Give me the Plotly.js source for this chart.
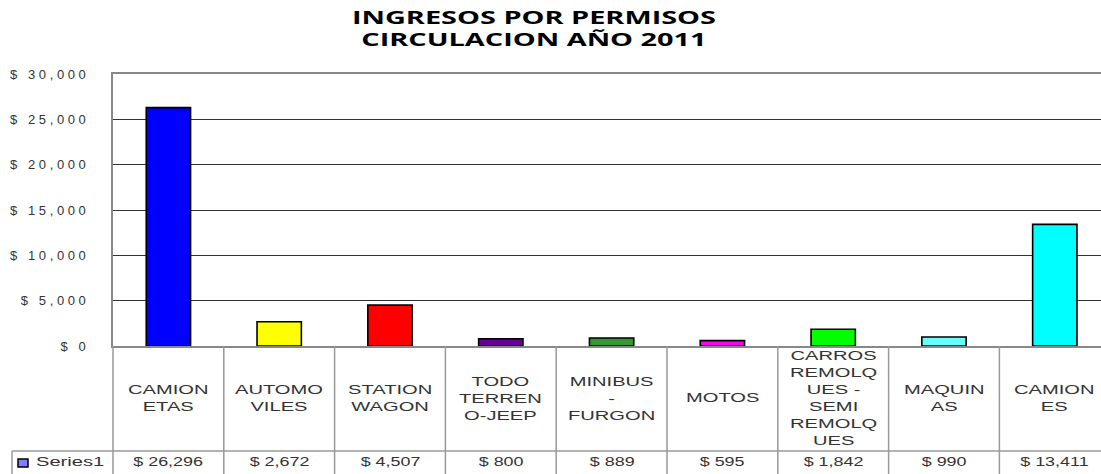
<!DOCTYPE html>
<html>
<head>
<meta charset="utf-8">
<script src="https://cdn.plot.ly/plotly-3.0.1.min.js"></script>
<style>
  html, body { margin: 0; padding: 0; background: #fff; }
  #chart { width: 1101px; height: 474px; }
  .annotation-text { transform: scaleX(1.55); transform-box: fill-box; transform-origin: center; }
  .gtitle { transform: scaleX(1.7); transform-box: fill-box; transform-origin: center; }
  .yaxislayer-above text { letter-spacing: 3.6px; }
</style>
</head>
<body>
<div id="chart"></div>
<script>
// ---- data ----
const categories = ['CAMIONETAS', 'AUTOMOVILES', 'STATION WAGON', 'TODO TERRENO-JEEP', 'MINIBUS - FURGON', 'MOTOS', 'CARROS REMOLQUES - SEMI REMOLQUES', 'MAQUINAS', 'CAMIONES'];
const tableLabels = ['CAMION<br>ETAS', 'AUTOMO<br>VILES', 'STATION<br>WAGON', 'TODO<br>TERREN<br>O-JEEP', 'MINIBUS<br>-<br>FURGON', 'MOTOS', 'CARROS<br>REMOLQ<br>UES -<br>SEMI<br>REMOLQ<br>UES', 'MAQUIN<br>AS', 'CAMION<br>ES'];
const values = [26296, 2672, 4507, 800, 889, 595, 1842, 990, 13411];
const barColors = ['#0000FF', '#FFFF00', '#FF0000', '#660099', '#339933', '#FF00FF', '#00FF00', '#66FFFF', '#00FFFF'];
const seriesName = 'Series1';
const titleText = 'INGRESOS POR PERMISOS<br>CIRCULACION AÑO 2011';

// ---- layout geometry ----
const W = 1101, H = 474;
const ML = 113, MR = 0, MT = 74, MB = 128;
const PW = W - ML - MR, PH = H - MT - MB;
const XR = [-0.5, 8.417];
const px2x = px => (px - ML) / PW;
const px2y = py => (H - MB - py) / PH;
const cat2paper = c => (c - XR[0]) / (XR[1] - XR[0]);

const tableColor = '#999999';
const textFont = { family: 'Liberation Sans, Arial, sans-serif', size: 13, color: '#333333' };

const shapes = [];
// vertical table lines at category boundaries
for (let i = 0; i < categories.length; i++) {
  const xp = cat2paper(i - 0.5);
  shapes.push({ type: 'line', xref: 'paper', yref: 'paper', x0: xp, x1: xp, y0: 0, y1: px2y(490),
    line: { color: tableColor, width: 1.5 } });
}
// horizontal line between label row and value row
shapes.push({ type: 'line', xref: 'paper', yref: 'paper', x0: px2x(12), x1: 1.0, y0: px2y(451), y1: px2y(451),
  line: { color: tableColor, width: 1.5 } });
// left border of legend cell
shapes.push({ type: 'line', xref: 'paper', yref: 'paper', x0: px2x(12), x1: px2x(12), y0: px2y(451), y1: px2y(490),
  line: { color: tableColor, width: 1.5 } });
// legend key
shapes.push({ type: 'rect', xref: 'paper', yref: 'paper', x0: px2x(18), x1: px2x(28), y0: px2y(459), y1: px2y(467),
  fillcolor: '#8080FF', line: { color: '#000000', width: 1.5 } });

const annotations = [];
tableLabels.forEach((lab, i) => {
  annotations.push({ x: i, xref: 'x', y: px2y(398.5), yref: 'paper', text: lab, showarrow: false,
    xanchor: 'center', yanchor: 'middle', align: 'center', font: textFont });
});
const valueStart = annotations.length;
values.forEach((v, i) => {
  annotations.push({ x: i, xref: 'x', y: px2y(462), yref: 'paper', text: '$ ' + v.toLocaleString('en-US'),
    showarrow: false, xanchor: 'center', yanchor: 'middle', font: textFont });
});
const valueEnd = annotations.length;
annotations.push({ x: px2x(70), xref: 'paper', y: px2y(462), yref: 'paper', text: seriesName, showarrow: false,
  xanchor: 'center', yanchor: 'middle', font: textFont });

// different horizontal stretch for the value row
let css = '';
for (let k = valueStart; k < valueEnd; k++) {
  css += 'g.annotation[data-index="' + k + '"] .annotation-text{transform:scaleX(1.38);}\n';
}
const st = document.createElement('style'); st.textContent = css; document.head.appendChild(st);

const trace = {
  type: 'bar',
  x: categories,
  y: values,
  name: seriesName,
  width: 0.4,
  marker: { color: barColors, line: { color: '#000000', width: 1.6 } },
  hoverinfo: 'x+y'
};

const layout = {
  width: W, height: H,
  margin: { l: ML, r: MR, t: MT, b: MB, pad: 0 },
  paper_bgcolor: '#ffffff', plot_bgcolor: '#ffffff',
  showlegend: false,
  title: { text: titleText, x: 0.485, xref: 'container', xanchor: 'center', y: 0.949, yref: 'container', yanchor: 'top',
    font: { family: 'Open Sans, sans-serif', size: 17, weight: 700, color: '#000000' } },
  xaxis: { type: 'category', range: XR, showticklabels: false, ticks: '', showgrid: false, zeroline: false,
    showline: true, mirror: true, linecolor: '#888888', linewidth: 2, fixedrange: true },
  yaxis: { range: [0, 30000], dtick: 5000, tick0: 0, tickprefix: '$ ', tickformat: ',d', ticks: '',
    showgrid: true, gridcolor: '#333333', gridwidth: 1, zeroline: false,
    showline: true, linecolor: '#888888', linewidth: 2, ticklabelstandoff: 19,
    tickfont: textFont, fixedrange: true },
  shapes: shapes,
  annotations: annotations
};

Plotly.newPlot('chart', [trace], layout, { displayModeBar: false, staticPlot: true });
</script>
</body>
</html>
